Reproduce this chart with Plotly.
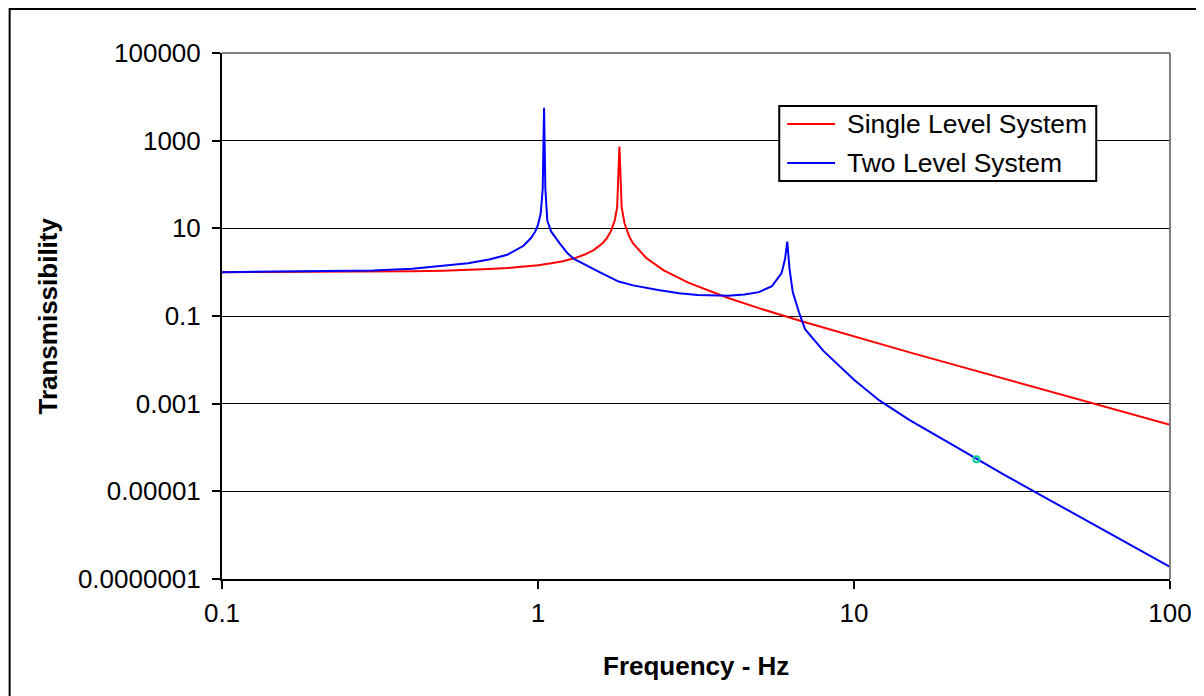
import plotly.graph_objects as go

# Frequency (Hz) and transmissibility
single_freq = [0.1, 0.2, 0.3, 0.4, 0.5, 0.6, 0.7, 0.8, 0.9, 1.0, 1.1, 1.2, 1.3, 1.4,
               1.5, 1.6, 1.65, 1.7, 1.75, 1.78, 1.81, 1.84, 1.88, 1.95, 2.0, 2.2,
               2.5, 3.0, 4.0, 5.0, 7.0, 10.0, 15.0, 20.0, 30.0, 50.0, 70.0, 100.0]
single_trans = [1.0, 1.01, 1.03, 1.05, 1.08, 1.12, 1.18, 1.24, 1.33, 1.44, 1.59, 1.78,
                2.07, 2.49, 3.19, 4.58, 5.9, 8.5, 15.3, 30.0, 730.0, 30.0, 12.7, 6.2,
                4.5, 2.1, 1.1, 0.57, 0.257, 0.151, 0.0717, 0.0339, 0.0148, 0.0083,
                0.00365, 0.00131, 0.00067, 0.00033]

two_freq = [0.1, 0.2, 0.3, 0.4, 0.5, 0.6, 0.7, 0.8, 0.9, 0.95, 0.98, 1.0, 1.02, 1.035,
            1.045, 1.055, 1.07, 1.1, 1.17, 1.24, 1.3, 1.4, 1.56, 1.8, 2.0, 2.4, 2.8,
            3.2, 3.6, 4.0, 4.5, 5.0, 5.5, 5.9, 6.05, 6.15, 6.25, 6.4, 6.7, 7.0, 8.0,
            9.0, 10.0, 12.0, 15.0, 20.0, 30.0, 40.0, 50.0, 70.0, 100.0]
two_trans = [1.0, 1.03, 1.09, 1.2, 1.38, 1.6, 1.95, 2.5, 4.0, 6.0, 8.5, 12.0, 22.0,
             80.0, 5600.0, 80.0, 15.0, 8.5, 4.6, 2.7, 2.0, 1.5, 1.02, 0.61, 0.5, 0.39,
             0.33, 0.3, 0.29, 0.29, 0.31, 0.35, 0.48, 0.95, 2.0, 5.0, 1.2, 0.35, 0.12,
             0.05, 0.016, 0.007, 0.0035, 0.0012, 0.00042, 0.000128, 0.0000235,
             0.0000074, 0.000003, 0.00000079, 0.00000019]

# the small stray marker on the two level curve
blip_freq = [24.4]
blip_trans = [0.000054]

series_names = ["Single Level System", "Two Level System"]
series_colors = ["#FF0000", "#0000FF"]

y_ticks = [1e-7, 1e-5, 1e-3, 1e-1, 1e1, 1e3, 1e5]
y_labels = ["0.0000001", "0.00001", "0.001", "0.1", "10", "1000", "100000"]
x_ticks = [0.1, 1, 10, 100]
x_labels = ["0.1", "1", "10", "100"]

FONT = "Arial, Liberation Sans, sans-serif"
FS = 26

fig = go.Figure()
fig.add_trace(go.Scatter(x=single_freq, y=single_trans, mode="lines",
                         name=series_names[0], showlegend=False,
                         line=dict(color=series_colors[0], width=2)))
fig.add_trace(go.Scatter(x=two_freq, y=two_trans, mode="lines",
                         name=series_names[1], showlegend=False,
                         line=dict(color=series_colors[1], width=2)))
fig.add_trace(go.Scatter(x=blip_freq, y=blip_trans, mode="markers", showlegend=False,
                         marker=dict(symbol="circle-open", size=6,
                                     line=dict(color="#0000FF", width=2))))

# page body has an 8px margin, so the figure is 8px smaller than the window
fig.update_layout(
    width=1196, height=688,
    margin=dict(l=214, r=31, t=45, b=117),
    paper_bgcolor="white", plot_bgcolor="white",
    font=dict(family=FONT, size=FS, color="black"),
    showlegend=False,
)

fig.update_xaxes(type="log", range=[-1, 2], tickvals=x_ticks, ticktext=x_labels,
                 showgrid=False, zeroline=False,
                 showline=True, linecolor="black", linewidth=2,
                 ticks="outside", ticklen=8, tickwidth=2, tickcolor="black",
                 tickfont=dict(size=FS), ticklabelstandoff=2)
fig.update_yaxes(type="log", range=[-7, 5], tickvals=y_ticks, ticktext=y_labels,
                 showgrid=True, gridcolor="black", gridwidth=1, zeroline=False,
                 showline=True, linecolor="black", linewidth=2,
                 ticks="outside", ticklen=8, tickwidth=2, tickcolor="black",
                 tickfont=dict(size=FS), ticklabelstandoff=6)

# axis titles
fig.add_annotation(text="<b>Frequency - Hz</b>", xref="paper", yref="paper",
                   x=0.5, y=-0.165, xanchor="center", yanchor="middle",
                   showarrow=False, font=dict(size=FS))
fig.add_annotation(text="<b>Transmissibility</b>", xref="paper", yref="paper",
                   x=-0.184, y=0.5, xanchor="center", yanchor="middle",
                   textangle=-90, showarrow=False, font=dict(size=FS))

# legend box drawn by hand (Excel style: sample line, then label)
fig.add_shape(type="rect", xref="paper", yref="paper",
              x0=0.5878, x1=0.9222, y0=0.7567, y1=0.8992,
              fillcolor="white", line=dict(color="black", width=2), layer="above")
for name, color, ly in zip(series_names, series_colors, [0.865, 0.7909]):
    fig.add_shape(type="line", xref="paper", yref="paper",
                  x0=0.5962, x1=0.6467, y0=ly, y1=ly,
                  line=dict(color=color, width=2), layer="above")
    fig.add_annotation(text=name, xref="paper", yref="paper", x=0.6572, y=ly,
                       xanchor="left", yanchor="middle", showarrow=False,
                       font=dict(size=26.5))

# gray plot-area border on top and right
fig.add_shape(type="line", xref="paper", yref="paper", x0=0, x1=1, y0=1, y1=1,
              line=dict(color="#808080", width=2), layer="above")
fig.add_shape(type="line", xref="paper", yref="paper", x0=1, x1=1, y0=0, y1=1,
              line=dict(color="#808080", width=2), layer="above")
# outer chart frame (only left and top edges fall inside the picture)
fig.add_shape(type="rect", xref="paper", yref="paper", x0=-0.224, x1=1.5, y0=-1, y1=1.0837,
              line=dict(color="black", width=2), layer="below")

fig.write_html("out.html")
